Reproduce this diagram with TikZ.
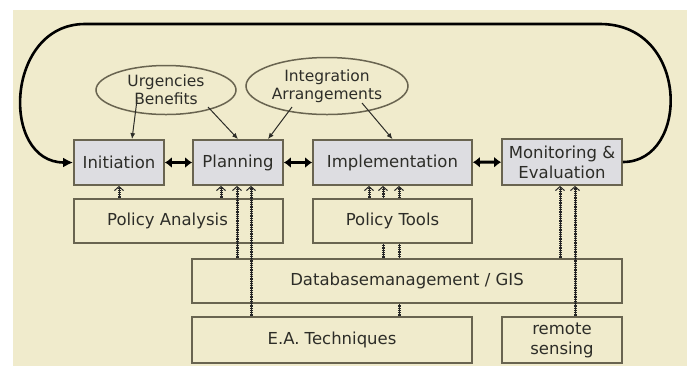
\documentclass[tikz,border=0pt]{standalone}
\usepackage{fontspec}
\setmainfont{DejaVu Sans}
\usetikzlibrary{arrows.meta,calc,backgrounds}
\usetikzlibrary{shapes.geometric}

\definecolor{paper}{RGB}{240,235,204}
\definecolor{stagegray}{RGB}{221,221,225}
\definecolor{edge}{RGB}{105,100,80}
\definecolor{ink}{RGB}{45,45,40}

\tikzset{
  stage/.style={draw=edge, fill=stagegray, line width=1.8pt, text=ink, align=center,
    font=\fontsize{16.5}{20}\selectfont},
  tool/.style={stage, fill=paper},
  topic/.style={ellipse, draw=edge, line width=1.5pt, text=ink, align=center, inner sep=0pt,
    font=\fontsize{15.5}{18}\selectfont},
  hint/.style={draw=ink, line width=1pt, -{Latex[length=6pt,width=5pt]}},
  link/.style={line width=3pt, {Latex[length=7pt,width=11pt]}-{Latex[length=7pt,width=11pt]}},
  % a rail: thin spine with cross ticks
  feed/.style={draw=black!85, line width=1pt,
    -{Straight Barb[length=4pt,width=9pt,line width=1pt]},
    postaction={draw=black!85, -, line width=3pt, dash pattern=on 0.8pt off 1pt, shorten >=2pt}}
}

\begin{document}
\begin{tikzpicture}[x=1pt,y=-1pt]
\useasboundingbox (0,0) rectangle (692,368);

% policy cycle
\node[stage, minimum width=90pt, minimum height=45pt] (init) at (119,162.5) {Initiation};
\node[stage, minimum width=90pt, minimum height=45pt] (plan) at (238,162.5) {Planning};
\node[stage, minimum width=159pt, minimum height=45pt] (impl) at (392.5,162.5) {Implementation};
\node[stage, minimum width=120pt, minimum height=46pt] (mon) at (562,162) {Monitoring \&\\Evaluation};

% supporting tools
\node[tool, minimum width=209pt, minimum height=44pt] (pa) at (178.5,221) {Policy Analysis\hspace*{22pt}};
\node[tool, minimum width=159pt, minimum height=44pt] (pt) at (392.5,221) {Policy Tools};
\node[tool, minimum width=430pt, minimum height=44pt] (db) at (407,281) {Databasemanagement / GIS};
\node[tool, minimum width=280pt, minimum height=46pt] (ea) at (332,340) {E.A. Techniques};
\node[tool, minimum width=120pt, minimum height=46pt] (rs) at (562,340) {remote\\sensing};

% issues
\node[topic, minimum width=140pt, minimum height=49pt] (urg) at (166,90) {Urgencies\\Benefits};
\node[topic, minimum width=162pt, minimum height=57pt] (integ) at (327,86) {Integration\\Arrangements};

\draw[hint] ($(urg.center)+(-29,10)$) -- ($(init.north)+(13,0)$);
\draw[hint] ($(urg.center)+(42,17)$) -- (plan.north);
\draw[hint] ($(integ.center)+(-35,21)$) -- ($(plan.north)+(30,0)$);
\draw[hint] ($(integ.center)+(35,17)$) -- (impl.north);

\draw[link] (init) -- (plan);
\draw[link] (plan) -- (impl);
\draw[link] (impl) -- (mon);

% feedback loop
\draw[line width=2.6pt, -{Latex[length=10pt,width=10pt]}] (mon.east)
  .. controls (690,162) and (690,24) .. (600,24) -- (85,24)
  .. controls (5,24) and (0,162.5) .. (init.west);

% rails up from the tools
\coordinate (r1) at (119,0);
\coordinate (r2) at (221,0);
\coordinate (r3) at (237,0);
\coordinate (r4) at (251,0);
\coordinate (r5) at (369,0);
\coordinate (r6) at (383,0);
\coordinate (r7) at (399,0);
\coordinate (r8) at (560,0);
\coordinate (r9) at (575,0);

\draw[feed] (pa.north -| r1) -- (init.south -| r1);
\draw[feed] (pa.north -| r2) -- (plan.south -| r2);
\draw[feed] (db.north -| r3) -- (plan.south -| r3);
\draw[feed] (ea.north -| r4) -- (plan.south -| r4);
\draw[feed] (pt.north -| r5) -- (impl.south -| r5);
\draw[feed] (db.north -| r8) -- (mon.south -| r8);
\draw[feed] (rs.north -| r9) -- (mon.south -| r9);

\begin{scope}[on background layer]
\fill[paper] (13,10) rectangle (687,366);
\draw[feed] (db.north -| r6) -- (impl.south -| r6);
\draw[feed] (ea.north -| r7) -- (impl.south -| r7);
\end{scope}
\end{tikzpicture}
\end{document}
